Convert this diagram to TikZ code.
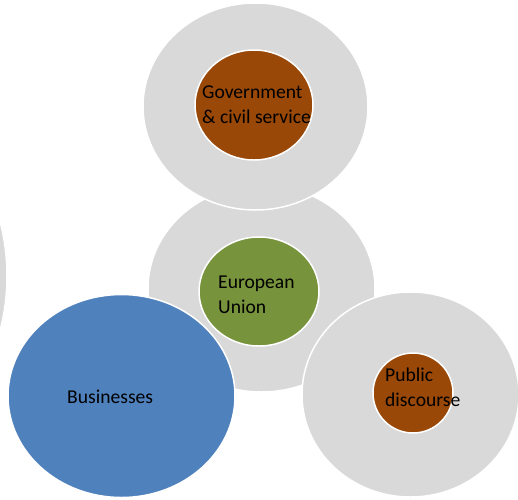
\documentclass[tikz,border=0pt]{standalone}
\usepackage{fontspec}
\setmainfont{Carlito}
\usetikzlibrary{shapes.geometric}
\definecolor{ring}{HTML}{D9D9D9}
\definecolor{rust}{HTML}{994808}
\definecolor{olive}{HTML}{77933C}
\definecolor{steel}{HTML}{4F81BD}
\tikzset{
  blob/.style={ellipse, draw=white, line width=1.5pt, inner sep=0pt},
  label/.style={anchor=base west, inner sep=0pt, align=left, font=\fontsize{19.6}{24.5}\selectfont, text=black}
}
\begin{document}
\begin{tikzpicture}[x=1pt, y=-1pt]
  \useasboundingbox (0,0) rectangle (518,499);
  \clip (0,0) rectangle (518,499);
  % outer rings
  \node[blob, fill=ring, minimum width=432pt, minimum height=432pt] (edge) at (-209,276) {};
  \node[blob, fill=ring, minimum width=227pt, minimum height=207pt] (euring) at (261.5,288.5) {};
  \node[blob, fill=ring, minimum width=225pt, minimum height=207pt] (govring) at (255.5,106.5) {};
  % inner discs
  \node[blob, fill=rust, minimum width=118pt, minimum height=110pt] (gov) at (254,105) {};
  \node[blob, fill=olive, minimum width=120pt, minimum height=109pt] (eu) at (259,291.5) {};
  \node[blob, fill=steel, minimum width=227pt, minimum height=203pt] (biz) at (121.5,396) {};
  \node[blob, fill=ring, minimum width=217pt, minimum height=205pt] (pubring) at (410.5,394.5) {};
  \node[blob, fill=rust, minimum width=80pt, minimum height=80pt] (pub) at (413,393) {};
  % labels (anchored at the baseline of their last line)
  \node[label] (govtxt) at (202,123) {Government\\\& civil service};
  \node[label] (eutxt) at (218,313) {European\\Union};
  \node[label] (pubtxt) at (385,406) {Public\\discourse};
  \node[label] (biztxt) at (67,403) {Businesses};
\end{tikzpicture}
\end{document}
